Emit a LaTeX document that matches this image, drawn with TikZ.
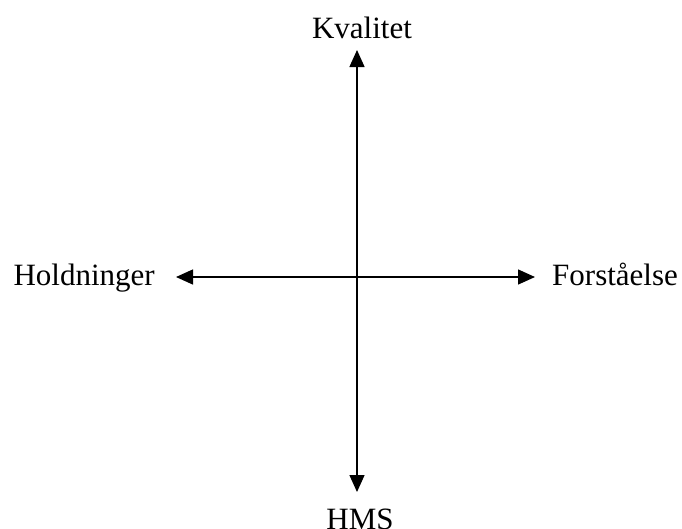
\documentclass[tikz,border=0pt]{standalone}
\usepackage{fontspec}
\setmainfont{Liberation Serif}
\usepackage{tikz}
\usetikzlibrary{arrows.meta}

\begin{document}
\begin{tikzpicture}[
  x=1pt, y=-1pt,
  every node/.style={font=\fontsize{31}{36}\selectfont, inner sep=0pt},
  axis/.style={{Triangle[length=17pt, width=15pt]}-{Triangle[length=17pt, width=15pt]}, line width=1.4pt}
]
\useasboundingbox (0,0) rectangle (682,528);

% --- Labels ---
\node[anchor=base] (kval) at (362,38) {Kvalitet};
\node[anchor=base] (hms) at (360,529) {HMS};
\node[anchor=base east] (hold) at (155,285) {Holdninger};
\node[anchor=base west] (forst) at (552,285) {Forståelse};

% --- Axis ends ---
\coordinate (top) at (357,50);
\coordinate (bottom) at (357,492);
\coordinate (left) at (176,277);
\coordinate (right) at (535,277);

% --- Axes ---
\draw[axis] (top) -- (bottom);
\draw[axis] (left) -- (right);

\end{tikzpicture}
\end{document}
